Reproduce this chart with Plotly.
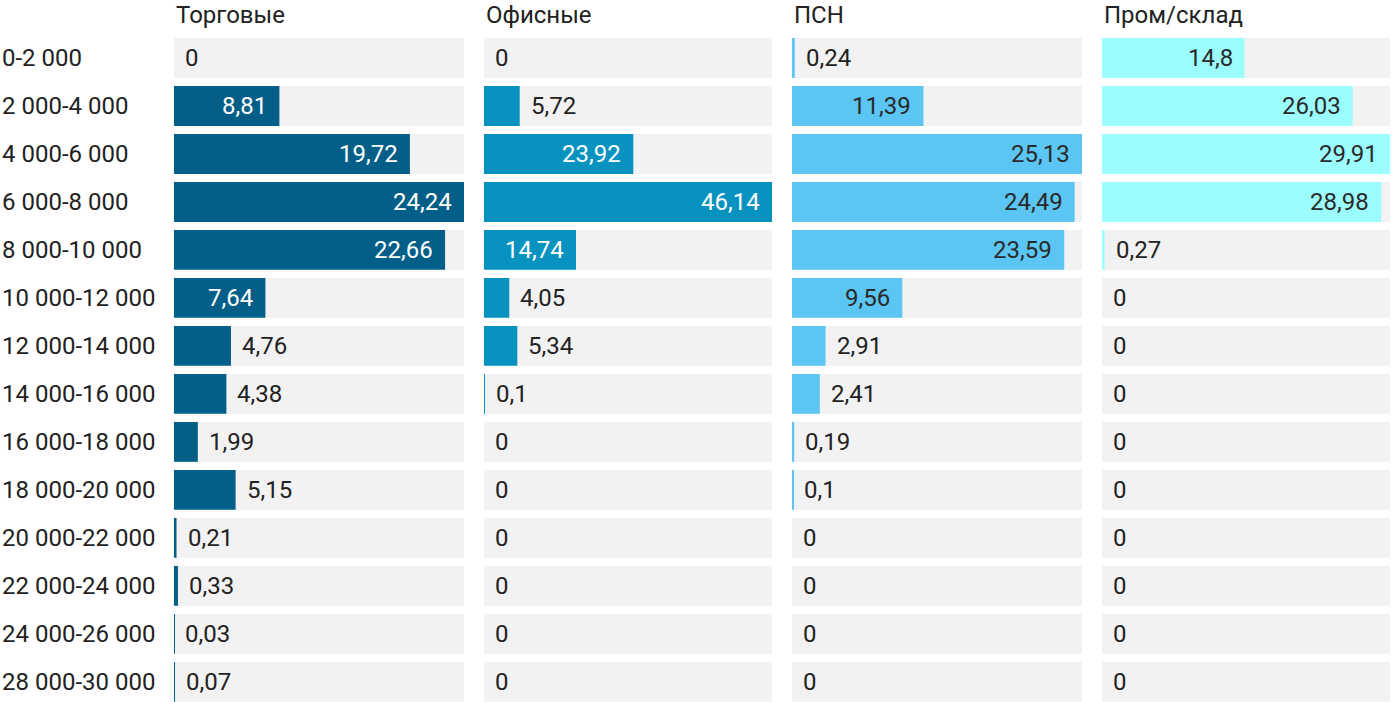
import plotly.graph_objects as go

categories = ["0-2 000", "2 000-4 000", "4 000-6 000", "6 000-8 000", "8 000-10 000",
              "10 000-12 000", "12 000-14 000", "14 000-16 000", "16 000-18 000",
              "18 000-20 000", "20 000-22 000", "22 000-24 000", "24 000-26 000",
              "28 000-30 000"]

titles = ["Торговые", "Офисные", "ПСН", "Пром/склад"]

trade = [0, 8.81, 19.72, 24.24, 22.66, 7.64, 4.76, 4.38, 1.99, 5.15, 0.21, 0.33, 0.03, 0.07]
office = [0, 5.72, 23.92, 46.14, 14.74, 4.05, 5.34, 0.1, 0, 0, 0, 0, 0, 0]
psn = [0.24, 11.39, 25.13, 24.49, 23.59, 9.56, 2.91, 2.41, 0.19, 0.1, 0, 0, 0, 0]
industrial = [14.8, 26.03, 29.91, 28.98, 0.27, 0, 0, 0, 0, 0, 0, 0, 0, 0]

series = [trade, office, psn, industrial]
colors = ["#035f87", "#0892bf", "#5bc6f4", "#9cfdfe"]
inside_text_colors = ["#ffffff", "#ffffff", "#2a2a2a", "#2a2a2a"]
domains_px = [(174, 464), (484, 772), (792, 1082), (1102, 1390)]

W, H = 1400, 702
FONT = "Roboto"
TEXT_DARK = "#222222"
FS = 24

fig = go.Figure()
annotations = []


def fmt(v):
    return f"{v:g}".replace(".", ",")


for i, (vals, col) in enumerate(zip(series, colors)):
    xa = "x" if i == 0 else f"x{i + 1}"
    vmax = max(vals)
    # background bars
    fig.add_trace(go.Bar(
        x=[vmax] * len(categories), y=categories, orientation="h",
        marker=dict(color="#f2f2f2", line=dict(width=0)), width=0.83,
        xaxis=xa, yaxis="y", hoverinfo="skip", showlegend=False,
    ))
    # value bars
    fig.add_trace(go.Bar(
        x=vals, y=categories, orientation="h",
        marker=dict(color=col, line=dict(width=0)), width=0.83,
        xaxis=xa, yaxis="y", showlegend=False,
    ))
    panel_w = domains_px[i][1] - domains_px[i][0]
    for cat, v in zip(categories, vals):
        txt = fmt(v)
        bar_px = v / vmax * panel_w
        need_px = len(txt) * 12 + 24
        if bar_px > need_px:
            annotations.append(dict(
                x=v, y=cat, xref=xa, yref="y", text=txt, showarrow=False,
                xanchor="right", xshift=-10,
                font=dict(family=FONT, size=FS, color=inside_text_colors[i]),
            ))
        else:
            annotations.append(dict(
                x=v, y=cat, xref=xa, yref="y", text=txt, showarrow=False,
                xanchor="left", xshift=9,
                font=dict(family=FONT, size=FS, color=TEXT_DARK),
            ))
    annotations.append(dict(
        x=0, y=1, xref=f"{xa} domain", yref="paper", text=titles[i],
        showarrow=False, xanchor="left", yanchor="bottom", yshift=3,
        font=dict(family=FONT, size=FS, color=TEXT_DARK),
    ))

for cat in categories:
    annotations.append(dict(
        x=0, y=cat, xref="paper", yref="y", text=cat, showarrow=False,
        xanchor="left", font=dict(family=FONT, size=FS, color=TEXT_DARK),
    ))

layout = dict(
    width=W, height=H,
    margin=dict(l=0, r=0, t=34, b=0, pad=0),
    paper_bgcolor="white", plot_bgcolor="white",
    barmode="overlay", showlegend=False,
    font=dict(family=FONT, size=FS, color=TEXT_DARK),
    yaxis=dict(type="category", categoryorder="array", categoryarray=categories,
               range=[13.42, -0.5], showticklabels=False, showgrid=False,
               zeroline=False, showline=False, ticks="", fixedrange=True),
    annotations=annotations,
)
for i, vals in enumerate(series):
    key = "xaxis" if i == 0 else f"xaxis{i + 1}"
    d0, d1 = domains_px[i]
    layout[key] = dict(domain=[d0 / W, d1 / W], range=[0, max(vals)],
                       anchor="y", showticklabels=False, showgrid=False,
                       zeroline=False, showline=False, ticks="", fixedrange=True)

fig.update_layout(**layout)
fig.write_html("out.html", config={"displayModeBar": False},
               post_script="document.body.style.margin='0px';")
